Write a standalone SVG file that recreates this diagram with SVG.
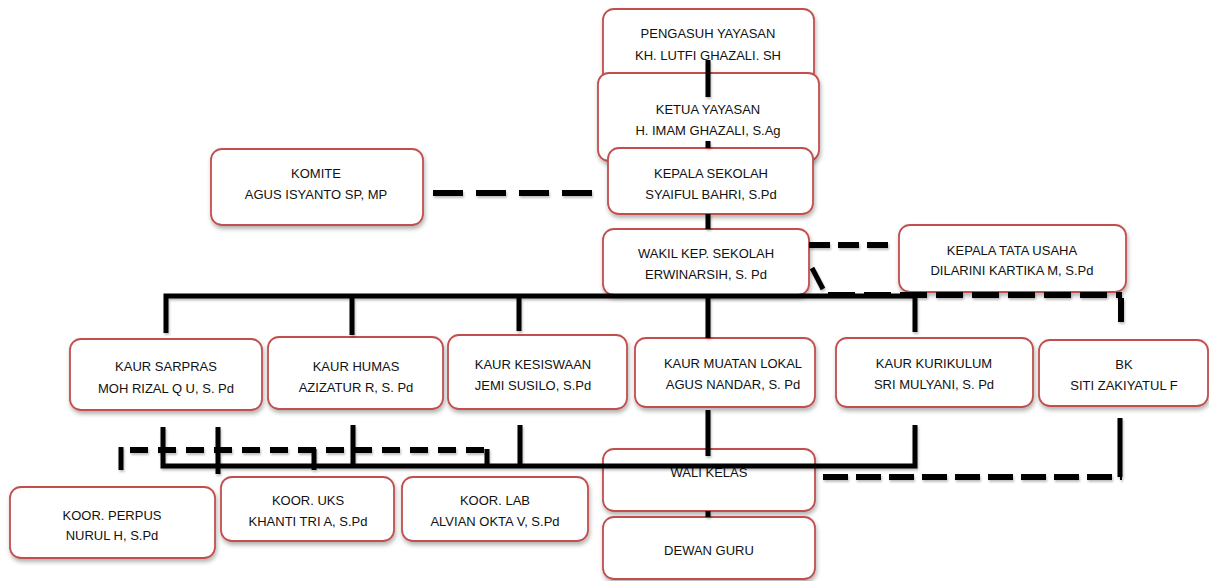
<svg xmlns="http://www.w3.org/2000/svg" width="1209" height="581" viewBox="0 0 1209 581">
<defs>
<filter id="sh" x="-10%" y="-10%" width="130%" height="140%">
<feDropShadow dx="1" dy="3" stdDeviation="2" flood-color="#000" flood-opacity="0.3"/>
</filter>
<filter id="lsh" x="-10%" y="-50%" width="120%" height="200%">
<feDropShadow dx="1" dy="2" stdDeviation="1.2" flood-color="#000" flood-opacity="0.25"/>
</filter>
</defs>
<style>
.box{fill:#fff;stroke:#C0504D;stroke-width:1.8;filter:url(#sh)}
.t{font-family:"Liberation Sans",Arial,sans-serif;font-size:13px;fill:#111;text-anchor:middle}
.ln{stroke:#000;stroke-width:5;fill:none;stroke-linecap:butt}
.ds{stroke:#000;stroke-width:6;fill:none}
</style>
<g id="pengasuh"><rect class="box" x="603" y="9" width="211" height="80" rx="11"/><text class="t" x="708" y="38">PENGASUH YAYASAN</text><text class="t" x="708" y="60">KH. LUTFI GHAZALI. SH</text></g>
<g id="ketua"><rect class="box" x="598" y="73" width="221" height="88" rx="11"/><text class="t" x="708" y="114">KETUA YAYASAN</text><text class="t" x="708" y="135">H. IMAM GHAZALI, S.Ag</text></g>
<g id="kepala"><rect class="box" x="608" y="148" width="205" height="66" rx="11"/><text class="t" x="711" y="178">KEPALA SEKOLAH</text><text class="t" x="711" y="199">SYAIFUL BAHRI, S.Pd</text></g>
<g id="komite"><rect class="box" x="211" y="149" width="212" height="76" rx="11"/><text class="t" x="316" y="178">KOMITE</text><text class="t" x="316" y="199">AGUS ISYANTO SP, MP</text></g>
<g id="wakil"><rect class="box" x="603" y="229" width="206" height="66" rx="11"/><text class="t" x="706" y="258">WAKIL KEP. SEKOLAH</text><text class="t" x="706" y="279">ERWINARSIH, S. Pd</text></g>
<g id="ktu"><rect class="box" x="899" y="225" width="227" height="67" rx="11"/><text class="t" x="1012" y="255">KEPALA TATA USAHA</text><text class="t" x="1012" y="275">DILARINI KARTIKA M, S.Pd</text></g>
<g id="sarpras"><rect class="box" x="70" y="339" width="192" height="71" rx="11"/><text class="t" x="166" y="371">KAUR SARPRAS</text><text class="t" x="166" y="393">MOH RIZAL Q U, S. Pd</text></g>
<g id="humas"><rect class="box" x="268" y="337" width="175" height="72" rx="11"/><text class="t" x="356" y="371">KAUR HUMAS</text><text class="t" x="356" y="392">AZIZATUR R, S. Pd</text></g>
<g id="kesiswaan"><rect class="box" x="448" y="335" width="179" height="74" rx="11"/><text class="t" x="533" y="369">KAUR KESISWAAN</text><text class="t" x="533" y="390">JEMI SUSILO, S.Pd</text></g>
<g id="muatan"><rect class="box" x="635" y="338" width="180" height="69" rx="11"/><text class="t" x="733" y="368">KAUR MUATAN LOKAL</text><text class="t" x="733" y="389">AGUS NANDAR, S. Pd</text></g>
<g id="kurikulum"><rect class="box" x="836" y="338" width="197" height="69" rx="11"/><text class="t" x="934" y="368">KAUR KURIKULUM</text><text class="t" x="934" y="389">SRI MULYANI, S. Pd</text></g>
<g id="bk"><rect class="box" x="1039" y="340" width="169" height="66" rx="11"/><text class="t" x="1124" y="369">BK</text><text class="t" x="1124" y="390">SITI ZAKIYATUL F</text></g>
<g id="perpus"><rect class="box" x="10" y="487" width="205" height="71" rx="11"/><text class="t" x="112" y="520">KOOR. PERPUS</text><text class="t" x="112" y="540">NURUL H, S.Pd</text></g>
<g id="uks"><rect class="box" x="221" y="477" width="173" height="64" rx="11"/><text class="t" x="308" y="505">KOOR. UKS</text><text class="t" x="308" y="526">KHANTI TRI A, S.Pd</text></g>
<g id="lab"><rect class="box" x="402" y="477" width="186" height="64" rx="11"/><text class="t" x="495" y="505">KOOR. LAB</text><text class="t" x="495" y="526">ALVIAN OKTA V, S.Pd</text></g>
<g id="wali"><rect class="box" x="603" y="449" width="212" height="62" rx="11"/><text class="t" x="709" y="477">WALI KELAS</text></g>
<g id="dewan"><rect class="box" x="603" y="517" width="212" height="62" rx="11"/><text class="t" x="709" y="555">DEWAN GURU</text></g>
<g id="connectors" filter="url(#lsh)">
<path class="ln" d="M708 60V97M708 141V148M708 214V229"/>
<path class="ds" d="M433 193H592" stroke-dasharray="30 13"/>
<path class="ds" d="M809 245H890" stroke-dasharray="21 8"/>
<path class="ln" d="M812 268L823 289"/>
<path class="ln" d="M166 333V296H915V332M352 296V335M519 296V331M708 294V338"/>
<path class="ds" d="M828 295H1122" stroke-dasharray="27 9"/>
<path class="ds" d="M1121 298V322" stroke-dasharray="24 6"/>
<path class="ln" d="M708 410V456M915 425V466H163V427M218 427V474M353 425V466M520 425V466M314 449V470M487 449V466M121 447V470"/>
<path class="ds" d="M130 450H488" stroke-dasharray="18 10"/>
<path class="ln" d="M708 511V517"/>
<path class="ln" d="M1120 418V477"/>
<path class="ds" d="M823 477H1122" stroke-dasharray="25 8"/>
</g>
</svg>
